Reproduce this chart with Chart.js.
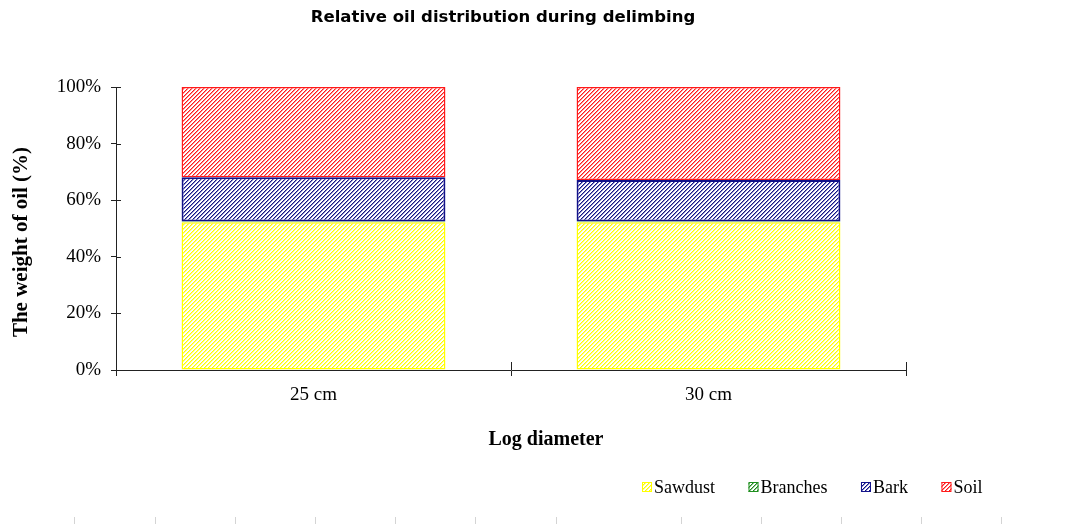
<!DOCTYPE html>
<html>
<head>
<meta charset="utf-8">
<title>Relative oil distribution during delimbing</title>
<script src="https://cdn.jsdelivr.net/npm/chart.js@4/dist/chart.umd.min.js"></script>
<style>
  html, body { margin: 0; padding: 0; background: #fff; }
  #wrap { width: 1078px; height: 524px; position: relative; }
</style>
</head>
<body>
<div id="wrap"><canvas id="chart" width="1078" height="524"></canvas></div>
<script>
// Log diameters compared
const categories = ['25 cm', '30 cm'];

// Share of spilled oil (%) ending up in each fraction
const sawdust  = [52.2, 52.2];
const branches = [0.3, 0.3];
const bark     = [15.6, 14.6];
const soil     = [31.9, 32.9];

const seriesNames = ['Sawdust', 'Branches', 'Bark', 'Soil'];
const yTicks = [0, 20, 40, 60, 80, 100];

const chartTitle = 'Relative oil distribution during delimbing';
const yTitle = 'The weight of oil (%)';
const xTitle = 'Log diameter';

const colors = {
  Sawdust: '#ffff00',
  Branches: '#1f8f1f',
  Bark: '#13138a',
  Soil: '#ff1a1a'
};

// Diagonal "/" hatch on white, 4px period
function hatch(color) {
  const c = document.createElement('canvas');
  c.width = 4; c.height = 4;
  const g = c.getContext('2d');
  g.fillStyle = '#ffffff';
  g.fillRect(0, 0, 4, 4);
  for (let x = 0; x < 4; x++) {
    for (let y = 0; y < 4; y++) {
      const s = (x + y) % 4;
      if (s === 3) { g.globalAlpha = 1; g.fillStyle = color; g.fillRect(x, y, 1, 1); }
      else if (s === 0) { g.globalAlpha = 0.5; g.fillStyle = color; g.fillRect(x, y, 1, 1); }
    }
  }
  return document.getElementById('chart').getContext('2d').createPattern(c, 'repeat');
}

const seriesData = [sawdust, branches, bark, soil];
const datasets = seriesNames.map((name, i) => ({
  label: name,
  data: seriesData[i],
  backgroundColor: hatch(colors[name]),
  borderColor: colors[name],
  borderWidth: name === 'Bark' ? 2 : 1.5,
  borderSkipped: false,
  barPercentage: 0.668,
  categoryPercentage: 1.0
}));

const SERIF = '"Liberation Serif", "Times New Roman", serif';
const AXIS = '#222';

// Ticks crossing into the plot, titles, legend and faint page rule marks
const decorations = {
  id: 'decorations',
  afterDraw(chart) {
    const ctx = chart.ctx;
    const xs = chart.scales.x, ys = chart.scales.y;
    const area = chart.chartArea;
    ctx.save();
    ctx.strokeStyle = AXIS;
    ctx.lineWidth = 1;
    // inward tick halves on the value axis
    ys.ticks.forEach(t => {
      const py = Math.round(ys.getPixelForValue(t.value)) + 0.5;
      ctx.beginPath();
      ctx.moveTo(area.left, py);
      ctx.lineTo(area.left + 5, py);
      ctx.stroke();
    });
    // inward tick halves at category boundaries
    const n = categories.length;
    for (let i = 1; i <= n; i++) {
      const px = Math.round(xs.left + (xs.right - xs.left) * i / n) + 0.5;
      ctx.beginPath();
      ctx.moveTo(px, area.bottom);
      ctx.lineTo(px, area.bottom - 8);
      ctx.stroke();
    }
    // chart title
    ctx.fillStyle = '#000';
    ctx.font = 'bold 16.5px "DejaVu Sans", sans-serif';
    ctx.textAlign = 'center';
    ctx.textBaseline = 'middle';
    ctx.fillText(chartTitle, 503, 18);
    // x axis title
    ctx.font = 'bold 20px ' + SERIF;
    ctx.fillText(xTitle, 546, 440);
    // y axis title
    ctx.save();
    ctx.translate(22, 242);
    ctx.rotate(-Math.PI / 2);
    ctx.font = 'bold 21px ' + SERIF;
    ctx.fillText(yTitle, 0, 0);
    ctx.restore();
    // legend
    ctx.font = '18px ' + SERIF;
    ctx.textAlign = 'left';
    let lx = 642;
    const ly = 487;
    chart.data.datasets.forEach(ds => {
      ctx.fillStyle = ds.backgroundColor;
      ctx.fillRect(lx, ly - 5, 10, 10);
      ctx.strokeStyle = ds.borderColor;
      ctx.lineWidth = 1;
      ctx.strokeRect(lx + 0.5, ly - 4.5, 9, 9);
      ctx.fillStyle = '#000';
      ctx.fillText(ds.label, lx + 12, ly + 1);
      lx += 12 + ctx.measureText(ds.label).width + 33.5;
    });
    // faint page rule marks along the bottom edge
    ctx.strokeStyle = '#d4d4d4';
    [74, 155, 235, 315, 395, 475, 556, 681, 761, 841, 921, 1001].forEach(px => {
      ctx.beginPath();
      ctx.moveTo(px + 0.5, 517);
      ctx.lineTo(px + 0.5, 524);
      ctx.stroke();
    });
    ctx.restore();
  }
};

new Chart(document.getElementById('chart'), {
  type: 'bar',
  data: { labels: categories, datasets },
  options: {
    responsive: false,
    animation: false,
    layout: { padding: { left: 0, right: 172, top: 87, bottom: 114 } },
    plugins: {
      legend: { display: false },
      title: { display: false },
      tooltip: { enabled: false }
    },
    scales: {
      x: {
        stacked: true,
        offset: true,
        grid: { offset: true, drawOnChartArea: false, drawTicks: true, tickLength: 6, color: AXIS },
        border: { color: AXIS, width: 1 },
        ticks: { color: '#000', font: { family: SERIF, size: 19 }, padding: 8 },
        afterFit(scale) { scale.height = 40; }
      },
      y: {
        stacked: true,
        min: 0,
        max: 100,
        afterBuildTicks(scale) { scale.ticks = yTicks.map(v => ({ value: v })); },
        grid: { drawOnChartArea: false, drawTicks: true, tickLength: 5, color: AXIS },
        border: { color: AXIS, width: 1 },
        ticks: { color: '#000', font: { family: SERIF, size: 19 }, padding: 10, callback: v => v + '%' },
        afterFit(scale) { scale.width = 116; }
      }
    }
  },
  plugins: [decorations]
});
</script>
</body>
</html>
